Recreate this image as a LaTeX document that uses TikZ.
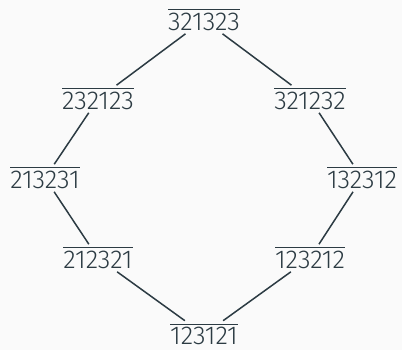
\documentclass[tikz,border=0pt]{standalone}
\usepackage{fontspec}
\setmainfont{Fira Sans Light}
\definecolor{ink}{HTML}{2C3B43}
\definecolor{bg}{HTML}{FAFAFA}
\newcommand\ovl[1]{\vbox{\hrule height 1.1bp\kern 2.4bp\hbox{#1}}}
\begin{document}
\begin{tikzpicture}[x=1bp,y=-1bp,
  lbl/.style={inner xsep=2bp,inner ysep=3bp,text=ink,font=\fontsize{25.8bp}{30bp}\selectfont},
  edge/.style={draw=ink,line width=1.5bp}]
\fill[bg] (0,0) rectangle (402,350);
\useasboundingbox (0,0) rectangle (402,350);
\node[lbl] (t) at (204,20) {\ovl{321323}};
\node[lbl] (l1) at (98,99) {\ovl{232123}};
\node[lbl] (r1) at (310,99) {\ovl{321232}};
\node[lbl] (l2) at (45,178) {\ovl{213231}};
\node[lbl] (r2) at (362,178) {\ovl{132312}};
\node[lbl] (l3) at (98,258) {\ovl{212321}};
\node[lbl] (r3) at (310,258) {\ovl{123212}};
\node[lbl] (b) at (204,334.5) {\ovl{123121}};
\draw[edge] (t) -- (l1);
\draw[edge] (t) -- (r1);
\draw[edge] (l1) -- (l2);
\draw[edge] (r1) -- (r2);
\draw[edge] (l2) -- (l3);
\draw[edge] (r2) -- (r3);
\draw[edge] (l3) -- (b);
\draw[edge] (r3) -- (b);
\end{tikzpicture}
\end{document}
